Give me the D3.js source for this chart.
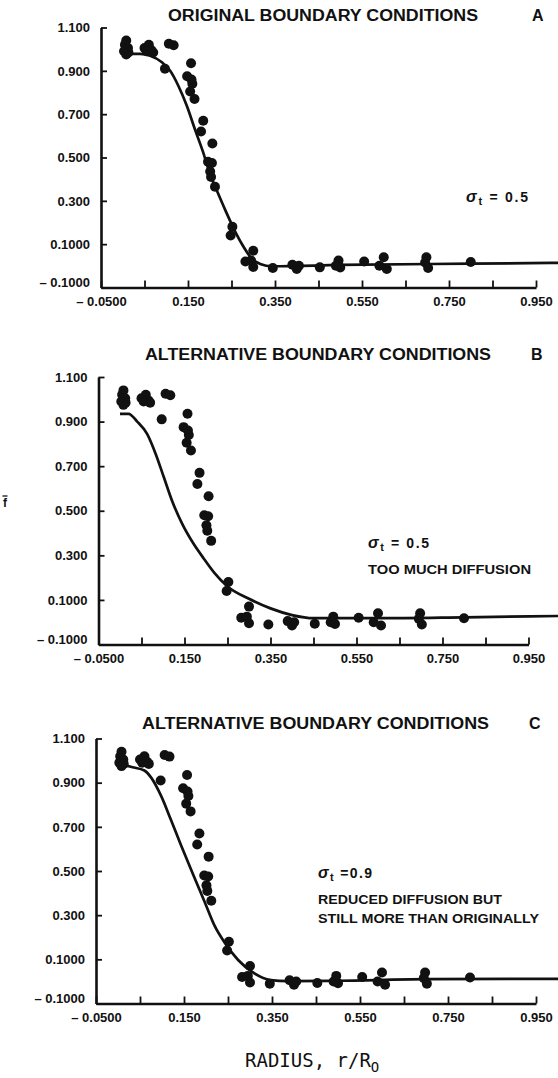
<!DOCTYPE html>
<html>
<head>
<meta charset="utf-8">
<script src="https://cdn.jsdelivr.net/npm/d3@7"></script>
<style>
  html, body { margin: 0; padding: 0; background: #fff; }
  svg { display: block; }
  text { font-family: "Liberation Sans", Arial, sans-serif; font-weight: bold; fill: #111; }
</style>
</head>
<body>
<div id="chart"></div>
<script>
// measured mean mixture fraction vs radius (same measurements in every panel)
var obsRadius = [0.008, 0.005, 0.012, 0.003, 0.013, 0.008, 0.050, 0.060, 0.066, 0.055,
    0.070, 0.106, 0.117, 0.097, 0.157, 0.148, 0.158, 0.160, 0.155, 0.165,
    0.185, 0.180, 0.206, 0.196, 0.205, 0.201, 0.203, 0.212, 0.252, 0.248,
    0.300, 0.282, 0.295, 0.300, 0.345, 0.390, 0.400, 0.405, 0.453, 0.496,
    0.500, 0.490, 0.555, 0.600, 0.590, 0.607, 0.698, 0.695, 0.702, 0.800];
var obsF = [1.040, 1.020, 1.005, 0.990, 0.985, 0.975, 1.005, 1.020, 0.995, 0.990,
    0.985, 1.025, 1.018, 0.910, 0.935, 0.875, 0.860, 0.840, 0.805, 0.770,
    0.670, 0.620, 0.565, 0.480, 0.475, 0.435, 0.410, 0.365, 0.180, 0.140,
    0.070, 0.020, 0.025, -0.005, -0.010, 0.005, -0.015, 0.000, -0.007, 0.025,
    -0.008, 0.000, 0.020, 0.040, 0.000, -0.015, 0.040, 0.015, -0.010, 0.018];

// computed profiles
var fitRadiusA = [0.000, 0.040, 0.063, 0.090, 0.109, 0.128, 0.147, 0.167, 0.186, 0.201,
    0.213, 0.236, 0.259, 0.278, 0.297, 0.316, 0.343, 0.500, 0.800, 1.020];
var fitA = [0.978, 0.978, 0.970, 0.940, 0.900, 0.830, 0.740, 0.624, 0.517, 0.420,
    0.363, 0.256, 0.156, 0.087, 0.032, 0.009, -0.002, 0.004, 0.010, 0.014];

var fitRadiusB = [0.000, 0.020, 0.040, 0.063, 0.083, 0.102, 0.121, 0.145, 0.170, 0.195,
    0.220, 0.250, 0.300, 0.350, 0.400, 0.450, 0.600, 0.800, 1.020];
var fitB = [0.935, 0.935, 0.900, 0.845, 0.755, 0.650, 0.545, 0.440, 0.355, 0.285,
    0.220, 0.160, 0.105, 0.062, 0.032, 0.018, 0.018, 0.022, 0.028];

var fitRadiusC = [0.000, 0.033, 0.060, 0.075, 0.098, 0.120, 0.143, 0.170, 0.197, 0.220,
    0.243, 0.273, 0.310, 0.347, 0.386, 0.500, 0.700, 1.020];
var fitC = [0.985, 0.970, 0.955, 0.924, 0.840, 0.733, 0.618, 0.488, 0.360, 0.250,
    0.174, 0.097, 0.036, 0.006, 0.001, 0.003, 0.010, 0.012];

var xTicks = [-0.05, 0.05, 0.15, 0.25, 0.35, 0.45, 0.55, 0.65, 0.75, 0.85, 0.95];
var xTickLabels = ['\u2013 0.0500', '', '0.150', '', '0.350', '', '0.550', '', '0.750', '', '0.950'];
var yTicks = [-0.1, 0.1, 0.3, 0.5, 0.7, 0.9, 1.1];
var yTickLabels = ['\u2013 0.1000', '0.1000', '0.300', '0.500', '0.700', '0.900', '1.100'];

var titles = ['ORIGINAL BOUNDARY CONDITIONS', 'ALTERNATIVE BOUNDARY CONDITIONS', 'ALTERNATIVE BOUNDARY CONDITIONS'];
var letters = ['A', 'B', 'C'];
var sigmaLabels = [' = 0.5', ' = 0.5', ' =0.9'];
var notes = [[], ['TOO MUCH DIFFUSION'], ['REDUCED DIFFUSION BUT', 'STILL MORE THAN ORIGINALLY']];

var width = 558,
    height = 1078;

var svg = d3
    .select('#chart')
    .append('svg')
    .attr('width', width)
    .attr('height', height);

// frame of each panel on the page
var frames = [
    { x0: 101, x1: 536, yBot: 287.5, yTop: 27.5, titleX: 168, titleW: 310, titleY: 21, letterX: 532,
      noteX: 466, noteY: 202, noteW: [62], fitR: fitRadiusA, fitF: fitA },
    { x0: 98.5, x1: 528.5, yBot: 644.5, yTop: 377, titleX: 145, titleW: 346, titleY: 360, letterX: 531,
      noteX: 368, noteY: 548, noteW: [61, 163], fitR: fitRadiusB, fitF: fitB },
    { x0: 96, x1: 536, yBot: 1003.5, yTop: 738.5, titleX: 142, titleW: 347, titleY: 729, letterX: 529,
      noteX: 318, noteY: 878, noteW: [54, 184, 221], fitR: fitRadiusC, fitF: fitC }
];

frames.forEach(function (fr, i) {
    var x = d3.scaleLinear().domain([-0.05, 0.95]).range([fr.x0, fr.x1]);
    var y = d3.scaleLinear().domain([-0.1, 1.1]).range([fr.yBot, fr.yTop]);

    var g = svg.append('g').attr('class', 'panel');

    // x axis, ticks pointing inward
    var xAxis = d3
        .axisBottom(x)
        .tickValues(xTicks)
        .tickFormat(function (d, k) {
            return xTickLabels[k];
        })
        .tickSizeInner(-7)
        .tickSizeOuter(0)
        .tickPadding(9);

    var gx = g
        .append('g')
        .attr('transform', 'translate(0,' + fr.yBot + ')')
        .call(xAxis);
    gx.attr('font-family', null).attr('font-size', null);
    gx.select('.domain').attr('stroke', '#111').attr('stroke-width', 2.6);
    gx.selectAll('.tick line').attr('stroke', '#111').attr('stroke-width', 1.8);
    gx.selectAll('.tick text').style('font-size', '13px').attr('fill', '#111');

    var yAxis = d3
        .axisLeft(y)
        .tickValues(yTicks)
        .tickFormat(function (d, k) {
            return yTickLabels[k];
        })
        .tickSizeInner(-6)
        .tickSizeOuter(0)
        .tickPadding(11);

    var gy = g
        .append('g')
        .attr('transform', 'translate(' + fr.x0 + ',0)')
        .call(yAxis);
    gy.attr('font-family', null).attr('font-size', null);
    gy.select('.domain').attr('stroke', '#111').attr('stroke-width', 2.6);
    gy.selectAll('.tick line').attr('stroke', '#111').attr('stroke-width', 1.8);
    gy.selectAll('.tick text')
        .style('font-size', '13px')
        .attr('fill', '#111')
        .attr('dy', function (d) {
            return d < 0 ? '-0.1em' : '0.32em';
        });

    // computed profile
    var line = d3
        .line()
        .x(function (d) {
            return x(d[0]);
        })
        .y(function (d) {
            return y(d[1]);
        })
        .curve(d3.curveMonotoneX);

    g.append('path')
        .datum(d3.zip(fr.fitR, fr.fitF))
        .attr('d', line)
        .attr('fill', 'none')
        .attr('stroke', '#111')
        .attr('stroke-width', 2.7)
        .attr('stroke-linejoin', 'round');

    // measurements
    g.append('g')
        .selectAll('circle')
        .data(d3.zip(obsRadius, obsF))
        .enter()
        .append('circle')
        .attr('cx', function (d) {
            return x(d[0]);
        })
        .attr('cy', function (d) {
            return y(d[1]);
        })
        .attr('r', 5)
        .attr('fill', '#111');

    // titles
    g.append('text')
        .attr('x', fr.titleX)
        .attr('y', fr.titleY)
        .attr('textLength', fr.titleW)
        .attr('lengthAdjust', 'spacingAndGlyphs')
        .style('font-size', '16px')
        .text(titles[i]);

    g.append('text')
        .attr('x', fr.letterX)
        .attr('y', fr.titleY)
        .style('font-size', '16px')
        .text(letters[i]);

    // sigma_t note
    var s = g.append('text')
        .attr('x', fr.noteX)
        .attr('y', fr.noteY)
        .attr('textLength', fr.noteW[0])
        .attr('lengthAdjust', 'spacing')
        .style('font-size', '14px');
    s.append('tspan').style('font-style', 'italic').style('font-size', '16px').text('\u03c3');
    s.append('tspan').attr('dy', 3).style('font-size', '11px').text('t');
    s.append('tspan').attr('dy', -3).text(sigmaLabels[i]);

    notes[i].forEach(function (n, k) {
        g.append('text')
            .attr('x', fr.noteX)
            .attr('y', fr.noteY + 26 + k * 19)
            .attr('textLength', fr.noteW[k + 1])
            .attr('lengthAdjust', 'spacingAndGlyphs')
            .style('font-size', '12.5px')
            .text(n);
    });
});

// y axis symbol, f with an overbar
svg.append('text')
    .attr('x', 5)
    .attr('y', 507)
    .attr('text-anchor', 'middle')
    .style('font-size', '12px')
    .text('f');
svg.append('line')
    .attr('x1', 2.5)
    .attr('x2', 7.5)
    .attr('y1', 496)
    .attr('y2', 496)
    .attr('stroke', '#111')
    .attr('stroke-width', 1.3);

// x axis title
var xt = svg.append('text')
    .attr('x', 245)
    .attr('y', 1067)
    .style('font-family', '"DejaVu Sans Mono", "Liberation Mono", monospace')
    .style('font-weight', 'normal')
    .style('font-size', '19px');
xt.append('tspan').text('RADIUS, r/R');
xt.append('tspan').attr('dy', 5).style('font-size', '14px').text('O');
</script>
</body>
</html>
